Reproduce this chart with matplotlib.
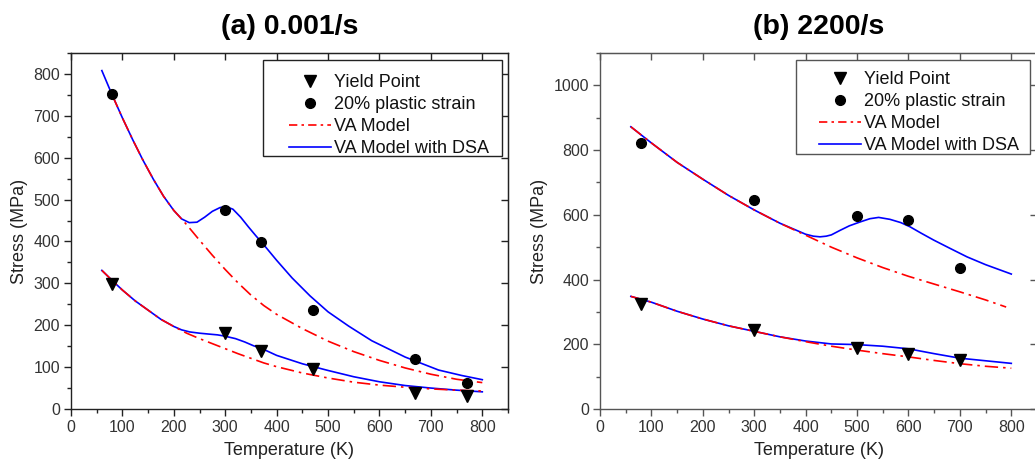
import matplotlib
matplotlib.use("Agg")
import matplotlib.pyplot as plt
from matplotlib.lines import Line2D
from matplotlib.patches import Rectangle
from matplotlib.ticker import MultipleLocator

plt.rcParams['font.family'] = ['Liberation Sans', 'DejaVu Sans']

# ---------------- (a) 0.001/s ----------------
a_temp_pts = [80, 300, 370, 470, 670, 770]
a_yield = [299, 182, 139, 95, 38, 30]
a_strain20 = [752, 474, 398, 236, 120, 63]

a_up_va_T = [80, 100, 120, 140, 160, 180, 200, 212, 225, 250, 275, 300, 325,
             350, 375, 400, 450, 500, 550, 600, 650, 700, 750, 800]
a_up_va = [750, 695, 643, 594, 549, 508, 474, 458, 440, 403, 367, 333, 301,
           272, 247, 226, 192, 162, 137, 116, 98, 83, 71, 63]

a_up_dsa_T = [60, 80, 100, 120, 140, 160, 180, 200, 215, 230, 245, 260, 275, 290,
              302, 315, 330, 345, 360, 375, 400, 430, 465, 500, 540, 585, 650,
              715, 760, 800]
a_up_dsa = [808, 750, 695, 643, 594, 549, 508, 474, 454, 445, 446, 458, 472, 481,
            483, 477, 458, 435, 413, 392, 355, 313, 270, 232, 198, 163, 124,
            93, 80, 70]

a_lo_va_T = [60, 80, 100, 125, 150, 175, 200, 225, 250, 275, 300, 325, 350, 375,
             400, 450, 500, 550, 600, 650, 700, 750, 800]
a_lo_va = [331, 307, 284, 258, 236, 214, 197, 181, 168, 156, 144, 132, 121, 110,
           101, 86, 74, 64, 57, 52, 48, 45, 43]

a_lo_dsa_T = [60, 80, 100, 125, 150, 175, 200, 215, 231, 250, 267, 285, 299, 320,
              338, 355, 370, 400, 450, 500, 550, 600, 650, 700, 750, 800]
a_lo_dsa = [331, 307, 284, 258, 236, 214, 197, 189, 184, 181, 179, 177, 174, 168,
            160, 151, 145, 128, 108, 92, 77, 65, 56, 50, 45, 41]

# ---------------- (b) 2200/s ----------------
b_temp_pts = [80, 300, 500, 600, 700]
b_yield = [325, 245, 188, 171, 150]
b_strain20 = [822, 647, 596, 585, 435]

b_up_va_T = [60, 100, 150, 200, 250, 300, 350, 400, 450, 500, 550, 600, 650, 700,
             750, 790]
b_up_va = [872, 822, 762, 710, 660, 615, 574, 537, 500, 467, 437, 410, 386, 362,
           337, 315]

b_up_dsa_T = [60, 100, 150, 200, 250, 300, 350, 400, 415, 428, 440, 450, 467, 485,
              506, 525, 542, 564, 585, 603, 625, 649, 680, 714, 750, 800]
b_up_dsa = [872, 822, 762, 710, 660, 615, 574, 540, 534, 532, 534, 538, 552, 566,
            578, 588, 592, 586, 576, 563, 543, 522, 497, 470, 446, 417]

b_lo_va_T = [60, 100, 150, 200, 250, 300, 350, 400, 450, 500, 550, 600, 650, 700,
             750, 800]
b_lo_va = [348, 330, 302, 278, 257, 240, 223, 208, 194, 182, 171, 161, 150, 140,
           132, 126]

b_lo_dsa_T = [60, 100, 150, 200, 250, 300, 350, 400, 450, 500, 550, 600, 650, 700,
              750, 800]
b_lo_dsa = [348, 330, 302, 278, 257, 240, 223, 210, 201, 199, 194, 186, 171, 157,
            149, 141]

legend_labels = ["Yield Point", "20% plastic strain", "VA Model", "VA Model with DSA"]
titles = ["(a) 0.001/s", "(b) 2200/s"]

RED = "#ff0000"
BLUE = "#0000ff"
DASHDOT = (0, (8, 3, 1.5, 3))

W, H = 1035, 466
fig = plt.figure(figsize=(W / 100, H / 100), dpi=100)

ax_w = 437 / W
ax_b = (H - 409) / H
ax_h = 356 / H
ax_a = fig.add_axes([71 / W, ax_b, ax_w, ax_h])
ax_bb = fig.add_axes([600 / W, ax_b, ax_w, ax_h])


def px_to_axes(ax_left_px, x_px, y_px):
    """Pixel position in the figure -> axes fraction for a panel."""
    return (x_px - ax_left_px) / 437, (409 - y_px) / 356


def style_axes(ax, ymax, ymajor, yminor, spine_col):
    ax.set_xlim(0, 850)
    ax.set_ylim(0, ymax)
    ax.xaxis.set_major_locator(MultipleLocator(100))
    ax.xaxis.set_minor_locator(MultipleLocator(50))
    ax.yaxis.set_major_locator(MultipleLocator(ymajor))
    ax.yaxis.set_minor_locator(MultipleLocator(yminor))
    for s in ax.spines.values():
        s.set_color(spine_col)
        s.set_linewidth(1.0)
    ax.tick_params(which='major', direction='out', length=5, width=1.0,
                   color=spine_col, labelsize=11.5, labelcolor="#333333", pad=3)
    ax.tick_params(which='minor', direction='out', length=3, width=1.0,
                   color=spine_col)
    ax.tick_params(top=False, right=False)
    # inward major ticks on the top and right frame edges
    top = ax.secondary_xaxis('top')
    top.xaxis.set_major_locator(MultipleLocator(100))
    top.xaxis.set_minor_locator(plt.NullLocator())
    top.tick_params(direction='in', length=5, width=1.0, color=spine_col,
                    labeltop=False)
    top.spines['top'].set_color(spine_col)
    right = ax.secondary_yaxis('right')
    right.yaxis.set_major_locator(MultipleLocator(ymajor))
    right.yaxis.set_minor_locator(plt.NullLocator())
    right.tick_params(direction='in', length=5, width=1.0, color=spine_col,
                      labelright=False)
    right.spines['right'].set_color(spine_col)
    ax.set_xlabel("Temperature (K)", fontsize=13, color="#222222", labelpad=5)
    ax.set_ylabel("Stress (MPa)", fontsize=13, color="#222222", labelpad=4)


def draw_panel(ax, ax_left_px, title, T_pts, yld, s20, up_va, up_dsa, lo_va,
               lo_dsa, box_px, entry_px, frame_col):
    ax.plot(*up_dsa, color=BLUE, lw=1.2, zorder=2, solid_joinstyle='round')
    ax.plot(*lo_dsa, color=BLUE, lw=1.2, zorder=2, solid_joinstyle='round')
    ax.plot(*up_va, color=RED, lw=1.2, ls=DASHDOT, zorder=3)
    ax.plot(*lo_va, color=RED, lw=1.2, ls=DASHDOT, zorder=3)
    ax.plot(T_pts, yld, ls='none', marker='v', ms=8.5, color='black', zorder=4)
    ax.plot(T_pts, s20, ls='none', marker='o', ms=7, color='black', zorder=4)
    ax.set_title(title, fontsize=20.5, fontweight='bold', pad=14)

    # legend frame
    x0, y0, x1, y1 = box_px
    fx0, fy1 = px_to_axes(ax_left_px, x0, y1)
    fx1, fy0 = px_to_axes(ax_left_px, x1, y0)
    ax.add_patch(Rectangle((fx0, fy1), fx1 - fx0, fy0 - fy1,
                           transform=ax.transAxes, facecolor='white',
                           edgecolor=frame_col, lw=1.0, zorder=5))
    handles = [
        Line2D([], [], ls='none', marker='v', ms=8.5, color='black'),
        Line2D([], [], ls='none', marker='o', ms=7, color='black'),
        Line2D([], [], color=RED, lw=1.2, ls=(0, (5, 2.5, 1.5, 2.5))),
        Line2D([], [], color=BLUE, lw=1.2),
    ]
    lx, ly = px_to_axes(ax_left_px, *entry_px)
    leg = ax.legend(handles, legend_labels, loc='upper left',
                    bbox_to_anchor=(lx, ly), borderaxespad=0, borderpad=0,
                    fontsize=13, frameon=False, handlelength=2.3,
                    handletextpad=0.2, labelspacing=0.28)
    leg.set_zorder(6)
    for t in leg.get_texts():
        t.set_color("#111111")


style_axes(ax_a, 850, 100, 50, "#222222")
style_axes(ax_bb, 1100, 200, 100, "#555555")

draw_panel(ax_a, 71, titles[0], a_temp_pts, a_yield, a_strain20,
           (a_up_va_T, a_up_va), (a_up_dsa_T, a_up_dsa),
           (a_lo_va_T, a_lo_va), (a_lo_dsa_T, a_lo_dsa),
           (263, 60, 502, 156), (289, 74), "#222222")
draw_panel(ax_bb, 600, titles[1], b_temp_pts, b_yield, b_strain20,
           (b_up_va_T, b_up_va), (b_up_dsa_T, b_up_dsa),
           (b_lo_va_T, b_lo_va), (b_lo_dsa_T, b_lo_dsa),
           (796, 60, 1030, 154), (819, 71), "#555555")

fig.savefig("out.png", dpi=100)
